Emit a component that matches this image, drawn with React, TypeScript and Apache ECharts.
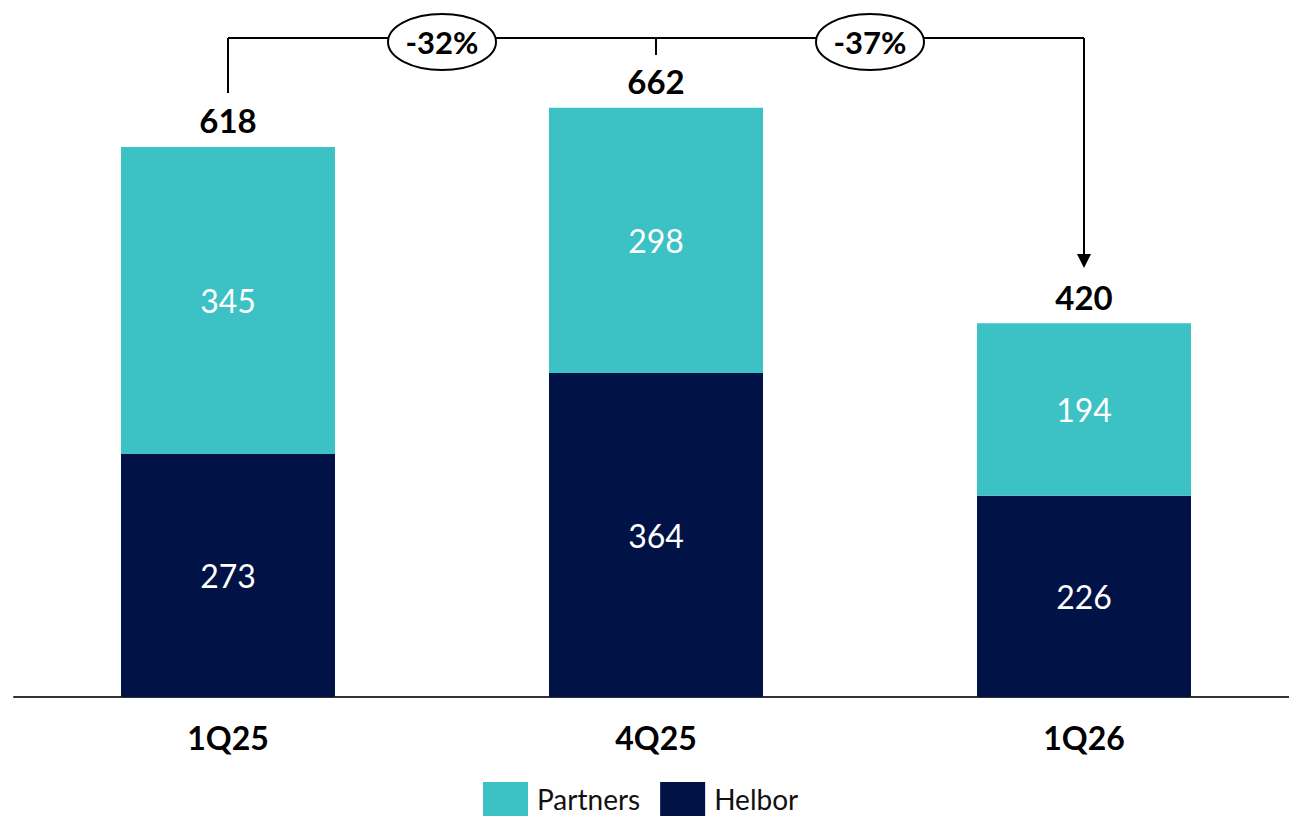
import React, { useEffect, useRef } from "react";
import * as echarts from "echarts";

const categories = ["1Q25", "4Q25", "1Q26"];
const partners = [345, 298, 194];
const helbor = [273, 364, 226];
const totals = partners.map((p, i) => p + helbor[i]);
const changes = ["-32%", "-37%"];

const TEAL = "#3CC1C4";
const NAVY = "#001246";
const FONT = "Lato, 'Open Sans', sans-serif";

export default function App() {
  const ref = useRef<HTMLDivElement>(null);
  useEffect(() => {
    if (!ref.current) return;
    const chart = echarts.init(ref.current, null, { renderer: "svg" });
    chart.setOption({
      animation: false,
      textStyle: { fontFamily: FONT },
      grid: { left: 14, right: 0, top: 74, bottom: 124, containLabel: false },
      legend: {
        top: 782,
        left: 483,
        itemWidth: 45,
        itemHeight: 34,
        itemGap: 20,
        icon: "rect",
        padding: 0,
        data: ["Partners", "Helbor"],
        textStyle: { fontSize: 28, lineHeight: 32, color: "#111", fontFamily: FONT, padding: [0, 0, 0, 4] },
      },
      xAxis: {
        type: "category",
        data: categories,
        axisLine: { lineStyle: { color: "#333", width: 2 } },
        axisTick: { show: false },
        axisLabel: { fontSize: 32, fontWeight: "bold", color: "#000", margin: 24, fontFamily: FONT },
      },
      yAxis: { type: "value", min: 0, max: 700, show: false, splitLine: { show: false } },
      series: [
        {
          name: "Helbor",
          type: "bar",
          stack: "t",
          data: helbor,
          barWidth: "50%",
          itemStyle: { color: NAVY },
          label: { show: true, position: "inside", color: "#fff", fontSize: 32, fontFamily: FONT },
        },
        {
          name: "Partners",
          type: "bar",
          stack: "t",
          data: partners,
          barWidth: "50%",
          itemStyle: { color: TEAL },
          label: { show: true, position: "inside", color: "#fff", fontSize: 32, fontFamily: FONT },
        },
        {
          name: "Total",
          type: "bar",
          stack: "t",
          data: totals.map(() => 0),
          barWidth: "50%",
          silent: true,
          itemStyle: { color: "rgba(0,0,0,0)" },
          label: {
            show: true,
            position: "top",
            distance: 10,
            color: "#000",
            fontSize: 33,
            fontWeight: "bold",
            fontFamily: FONT,
            formatter: (p: any) => String(totals[p.dataIndex]),
          },
        },
      ],
    });

    const xs = categories.map((c) => chart.convertToPixel({ xAxisIndex: 0 }, c) as number);
    const lineY = 38;
    const lw = 2;
    const els: any[] = [
      { type: "line", shape: { x1: xs[0], y1: 93, x2: xs[0], y2: lineY }, style: { stroke: "#000", lineWidth: lw } },
      { type: "line", shape: { x1: xs[0], y1: lineY, x2: xs[2], y2: lineY }, style: { stroke: "#000", lineWidth: lw } },
      { type: "line", shape: { x1: xs[1], y1: lineY, x2: xs[1], y2: 55 }, style: { stroke: "#000", lineWidth: lw } },
      { type: "line", shape: { x1: xs[2], y1: lineY, x2: xs[2], y2: 256 }, style: { stroke: "#000", lineWidth: lw } },
      {
        type: "polygon",
        shape: { points: [[xs[2] - 7, 254], [xs[2] + 7, 254], [xs[2], 268]] },
        style: { fill: "#000" },
      },
    ];
    changes.forEach((t, i) => {
      const cx = (xs[i] + xs[i + 1]) / 2;
      els.push({
        type: "ellipse",
        shape: { cx, cy: 42, rx: 54, ry: 28 },
        style: { fill: "#fff", stroke: "#000", lineWidth: lw },
        z: 10,
      });
      els.push({
        type: "text",
        x: cx,
        y: 42,
        z: 11,
        style: {
          text: t,
          align: "center",
          verticalAlign: "middle",
          fontSize: 31,
          fontWeight: "bold",
          fontFamily: FONT,
          fill: "#000",
        },
      });
    });
    chart.setOption({ graphic: els });

    return () => chart.dispose();
  }, []);
  return (
    <div style={{ position: "fixed", left: 0, top: 0, width: 1289, height: 821, overflow: "hidden", background: "#fff" }}>
      <div ref={ref} style={{ position: "absolute", left: 0, top: 0, width: 1298, height: 821 }} />
    </div>
  );
}
